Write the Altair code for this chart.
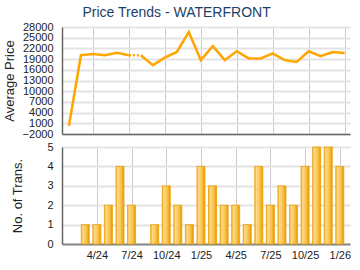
import altair as alt
import pandas as pd

months = ["2/24","3/24","4/24","5/24","6/24","7/24","8/24","9/24","10/24","11/24","12/24",
          "1/25","2/25","3/25","4/25","5/25","6/25","7/25","8/25","9/25","10/25","11/25","12/25","1/26"]
idx = [1,2,3,4,5,6,7,8,9,10,11,12,13,14,15,16,17,18,19,20,21,22,23,24]
price = [300, 20100, 20400, 20100, 20800, 20100, 20100, 17300, 19400, 21000, 26600,
         18700, 22600, 18700, 21200, 19200, 19200, 20600, 18700, 18200, 21200, 19800, 21000, 20700]
seg = ["a","a","a","a","a","a","b","b","b","b","b",
       "b","b","b","b","b","b","b","b","b","b","b","b","b"]
trans = [0, 1, 1, 2, 4, 2, 0, 1, 3, 2, 1, 4, 3, 2, 2, 1, 4, 2, 3, 2, 4, 5, 5, 4]

tick_pos = [3, 6, 9, 12, 15, 18, 21, 24]
tick_lab = ["4/24","7/24","10/24","1/25","4/25","7/25","10/25","1/26"]
price_ticks = list(range(-2000, 28001, 3000))

df = pd.DataFrame({"i": idx, "m": months, "price": price, "seg": seg, "n": trans})
dash_df = df[df["m"].isin(["7/24", "8/24"])]
bar_df = df[df["n"] > 0]

labexpr = "{" + ",".join(f"'{p}':'{l}'" for p, l in zip(tick_pos, tick_lab)) + "}[datum.value]"
xdom = [0.42, 24.45]
W = 288
FONT = "Liberation Sans"

x_top = alt.X("i:Q", scale=alt.Scale(domain=xdom, nice=False, zero=False),
              axis=alt.Axis(values=tick_pos, tickCount=20, labels=False, ticks=False, title=None,
                            domainColor="#666", domainWidth=1.5, gridColor="#cccccc", gridWidth=1))

y_top = alt.Y("price:Q", scale=alt.Scale(domain=[-2000, 28000], nice=False, zero=False),
              axis=alt.Axis(values=price_ticks, tickCount=30, title="Average Price", ticks=False,
                            format="d", labelOverlap=False, labelFlush=False, labelBound=False,
                            labelPadding=9, titlePadding=6, grid=True,
                            gridColor="#e3e3e3", gridWidth=2,
                            domainColor="#666", domainWidth=1.5))

line = alt.Chart(df).mark_line(color="#FFA500", strokeWidth=2.5).encode(
    x=x_top, y=y_top, detail="seg:N")
dash = alt.Chart(dash_df).mark_line(color="#FFA500", strokeWidth=2.5, strokeDash=[2, 2]).encode(
    x=x_top, y=y_top)

top = alt.layer(line, dash).properties(
    width=W, height=107,
    title=alt.TitleParams("Price Trends - WATERFRONT", anchor="middle", frame="bounds",
                          fontSize=14, font=FONT, fontWeight="normal", color="#1d3f66", offset=1))

x_bot = alt.X("i:Q", scale=alt.Scale(domain=xdom, nice=False, zero=False),
              axis=alt.Axis(values=tick_pos, tickCount=20, labelExpr=labexpr, ticks=False, title=None,
                            labelPadding=5, domainColor="#888", domainWidth=2,
                            labelOverlap=False, labelFlush=False,
                            gridColor="#cccccc", gridWidth=1))
y_bot = alt.Y("n:Q", scale=alt.Scale(domain=[0, 5], nice=False),
              axis=alt.Axis(values=[0, 1, 2, 3, 4, 5], tickCount=10, title="No. of Trans.", ticks=False,
                            labelOverlap=False, labelFlush=False, format="d",
                            labelPadding=9, titlePadding=22, grid=True,
                            gridColor="#e3e3e3", gridWidth=2,
                            domainColor="#666", domainWidth=1.5))

grad = alt.Gradient(gradient="linear", x1=0, x2=1, y1=0, y2=0,
                    stops=[alt.GradientStop(color="#F4B030", offset=0),
                           alt.GradientStop(color="#FFD98A", offset=0.2),
                           alt.GradientStop(color="#F9C450", offset=0.6),
                           alt.GradientStop(color="#E99A00", offset=1)])
bottom = alt.Chart(bar_df).mark_bar(size=8, color=grad, stroke="#E8A000", strokeWidth=0.8).encode(
    x=x_bot, y=y_bot).properties(width=W, height=97)

chart = alt.vconcat(top, bottom, spacing=2).properties(
    padding={"left": 3, "top": 6, "right": 8, "bottom": 4}
).configure(font=FONT).configure_axis(
    labelFont=FONT, titleFont=FONT, labelFontSize=11, titleFontSize=13,
    titleFontWeight="normal", labelColor="#222", titleColor="#222"
).configure_view(stroke=None)

chart.save("out.html", embed_options={"renderer": "svg", "actions": False})
